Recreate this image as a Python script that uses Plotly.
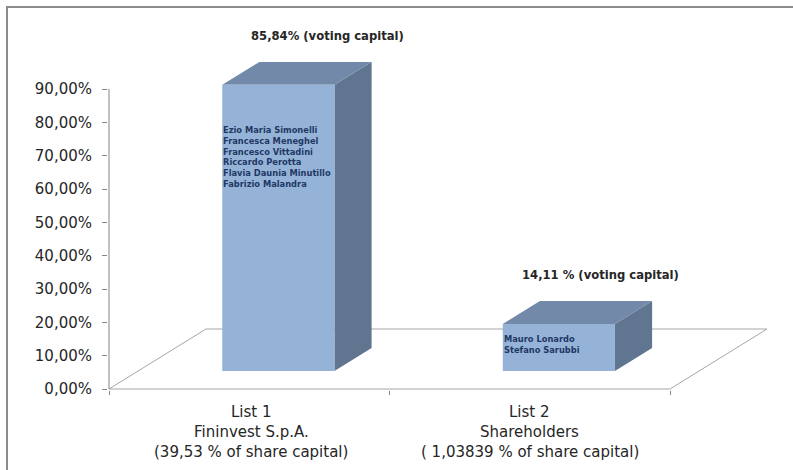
import plotly.graph_objects as go

# ---- data -------------------------------------------------------------
category_lines = [
    ["List 1", "Fininvest S.p.A.", "(39,53 % of share capital)"],
    ["List 2", "Shareholders", "( 1,03839 % of share capital)"],
]
voting_capital = [85.84, 14.11]
value_labels = ["85,84% (voting capital)", "14,11 % (voting capital)"]
candidates = [
    ["Ezio Maria Simonelli", "Francesca Meneghel", "Francesco Vittadini",
     "Riccardo Perotta", "Flavia Daunia Minutillo", "Fabrizio Malandra"],
    ["Mauro Lonardo", "Stefano Sarubbi"],
]
y_ticks = [0, 10, 20, 30, 40, 50, 60, 70, 80, 90]
y_tick_text = [f"{v:.2f}".replace(".", ",") + "%" for v in y_ticks]

# ---- page geometry ----------------------------------------------------
W, H = 793, 470
L, R, T, B = 108, 8, 10, 80
PW, PH = W - L - R, H - T - B
PX_PER_CAT = 280.5          # pixels per category along x
PX_PER_PCT = 10 / 3         # pixels per percentage point
x0 = -1 / PX_PER_CAT
y0 = -1 / PX_PER_PCT

# 3-D look: floor depth vector and where bars sit inside it
DX = 97 / PX_PER_CAT        # horizontal shift of the floor's back edge
DY = 60 / PX_PER_PCT        # vertical shift of the floor's back edge
D_FRONT, D_BACK = 0.30, 0.683
BAR_W = 0.40

FRONT = "#95B3D7"
TOP = "#7289A9"
SIDE = "#5F7590"
EDGE = "#A6A6A6"
AXIS = "#868686"
TEXT = "#262626"
NAMES = "#1F3864"
FONT = "DejaVu Sans"

fig = go.Figure()


def poly(xs, ys, fill, line_color=None, width=0):
    fig.add_trace(go.Scatter(
        x=xs + [xs[0]], y=ys + [ys[0]], mode="lines",
        fill="toself" if fill else None, fillcolor=fill,
        line=dict(color=line_color or "rgba(0,0,0,0)", width=width),
        hoverinfo="skip", showlegend=False,
    ))


# floor
n = len(category_lines)
poly([0, n, n + DX, DX], [0, 0, DY, DY], None, EDGE, 1)

# y axis line (0 .. 90 %)
fig.add_trace(go.Scatter(x=[0, 0], y=[0, y_ticks[-1]], mode="lines",
                         line=dict(color=AXIS, width=1),
                         hoverinfo="skip", showlegend=False))

# bars: side, top, front
label_xshift = [12, 4]
for i, v in enumerate(voting_capital):
    cx = i + 0.5
    xl = cx - BAR_W / 2
    xr = cx + BAR_W / 2
    fx, fy = D_FRONT * DX, D_FRONT * DY
    bx, by = D_BACK * DX, D_BACK * DY
    poly([xr + fx, xr + bx, xr + bx, xr + fx],
         [fy, by, by + v, fy + v], SIDE)
    poly([xl + fx, xr + fx, xr + bx, xl + bx],
         [fy + v, fy + v, by + v, by + v], TOP)
    poly([xl + fx, xr + fx, xr + fx, xl + fx],
         [fy, fy, fy + v, fy + v], FRONT)

    fig.add_annotation(
        x=cx + bx, y=by + v, xref="x", yref="y",
        text="<b>" + value_labels[i] + "</b>", showarrow=False,
        yanchor="middle", yshift=26, xshift=label_xshift[i],
        font=dict(family=FONT, size=11.6, color=TEXT),
    )

# candidate names written on the bar fronts
name_top = [79.8, 17.1]
for i, names in enumerate(candidates):
    xl = i + 0.5 - BAR_W / 2 + D_FRONT * DX
    fig.add_annotation(
        x=xl, y=name_top[i], xref="x", yref="y",
        text="<b>" + "<br>".join(names) + "</b>", showarrow=False,
        xanchor="left", yanchor="top", align="left", xshift=-1,
        font=dict(family=FONT, size=8.3, color=NAMES),
    )

# category labels under the floor, one line each
for i, lines in enumerate(category_lines):
    for k, line in enumerate(lines):
        fig.add_annotation(
            x=i + 0.5, y=0, xref="x", yref="y", text=line,
            showarrow=False, yanchor="middle", yshift=-(23 + 20 * k),
            xshift=2 if i == 0 else 0,
            font=dict(family=FONT, size=15, color=TEXT),
        )


# outer frame (top and left edges)
def to_px(px):
    return (px - L) / PW


def to_py(py):
    return (H - B - py) / PH


fig.add_shape(type="line", xref="paper", yref="paper",
              x0=to_px(6), x1=to_px(W + 5), y0=to_py(7), y1=to_py(7),
              line=dict(color="#8C8C8C", width=2))
fig.add_shape(type="line", xref="paper", yref="paper",
              x0=to_px(7), x1=to_px(7), y0=to_py(6), y1=to_py(H + 5),
              line=dict(color="#8C8C8C", width=2))

fig.update_layout(
    width=W, height=H,
    margin=dict(l=L, r=R, t=T, b=B, pad=0),
    paper_bgcolor="white", plot_bgcolor="white",
    showlegend=False,
    xaxis=dict(
        range=[x0, x0 + PW / PX_PER_CAT],
        tickmode="array", tickvals=[], ticks="",
        showgrid=False, zeroline=False, showline=False,
        minor=dict(tickmode="array", tickvals=list(range(n + 1)),
                   ticks="outside", ticklen=4, tickcolor=AXIS, tickwidth=1),
    ),
    yaxis=dict(
        range=[y0, y0 + PH / PX_PER_PCT],
        tickmode="array", tickvals=y_ticks, ticktext=y_tick_text,
        ticks="outside", ticklen=5, tickcolor=AXIS,
        showgrid=False, zeroline=False, showline=False,
        ticklabelstandoff=7,
        tickfont=dict(family=FONT, size=15, color=TEXT),
    ),
)

fig.write_html("out.html")
